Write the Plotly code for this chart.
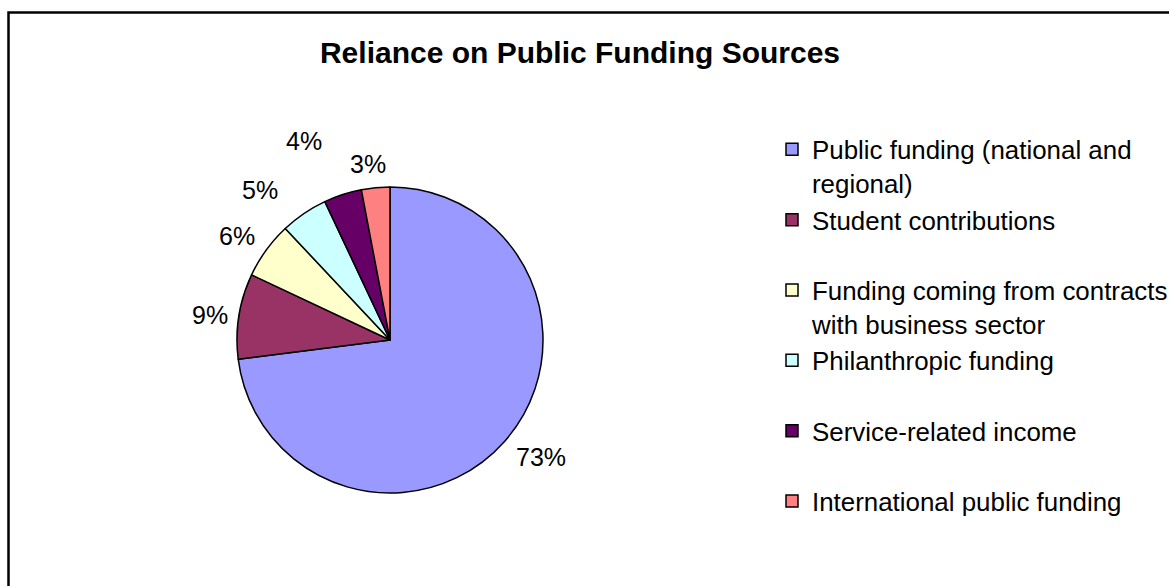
import math
import plotly.graph_objects as go

# Funding sources and their shares (%)
sources = [
    "Public funding (national and<br>regional)",
    "Student contributions<br> ",
    "Funding coming from contracts<br>with business sector",
    "Philanthropic funding<br> ",
    "Service-related income<br> ",
    "International public funding<br> ",
]
shares = [73, 9, 6, 5, 4, 3]
colors = ["#9999FF", "#993366", "#FFFFCC", "#CCFFFF", "#660066", "#FF8080"]

W, H = 1169, 586
cx, cy, r = 390, 340, 153  # pie centre and radius in pixels
label_size = 25
label_gap = 10            # space between the rim and the nearest edge of a label
# per-label nudges (px) so the labels of the thin slices fan out without colliding
label_radial = [1, -1, 0, 14, 35, 0]
label_tangent = [12, 3, 6, 23, 20, 5]

fig = go.Figure(
    go.Pie(
        labels=sources,
        values=shares,
        sort=False,
        direction="clockwise",
        rotation=0,
        marker=dict(colors=colors, line=dict(color="black", width=1.5)),
        textinfo="none",
        hoverinfo="label+percent",
        domain=dict(x=[(cx - r) / W, (cx + r) / W], y=[(H - cy - r) / H, (H - cy + r) / H]),
    )
)

# Percentage labels placed outside each slice, around the slice's mid-angle
annotations = []
total = sum(shares)
start = 0.0
for val, rad, tan in zip(shares, label_radial, label_tangent):
    mid = (start + val / 2) / total * 2 * math.pi  # clockwise from 12 o'clock
    start += val
    ux, uy = math.sin(mid), -math.cos(mid)   # outward direction, screen coords
    tx, ty = -math.cos(mid), -math.sin(mid)  # tangent, counter-clockwise
    text = f"{val}%"
    w = (0.556 * (len(text) - 1) + 0.889) * label_size
    h = label_size
    support = abs(ux) * w / 2 + abs(uy) * h / 2
    dist = r + label_gap + support + rad
    px = cx + dist * ux + tan * tx
    py = cy + dist * uy + tan * ty
    annotations.append(
        dict(
            text=text,
            x=px / W,
            y=1 - py / H,
            xref="paper",
            yref="paper",
            xanchor="center",
            yanchor="middle",
            showarrow=False,
            font=dict(size=label_size, color="black"),
        )
    )

fig.update_layout(
    width=W,
    height=H,
    margin=dict(l=0, r=0, t=0, b=0, autoexpand=False),
    paper_bgcolor="white",
    font=dict(family="Arial, Liberation Sans, sans-serif", color="black", size=24),
    title=dict(
        text="<b>Reliance on Public Funding Sources</b>",
        x=580 / W,
        xanchor="center",
        y=1 - 52 / H,
        yanchor="middle",
        font=dict(size=30, color="black"),
    ),
    legend=dict(
        x=772 / W,
        xanchor="left",
        y=1 - 126 / H,
        yanchor="top",
        valign="top",
        maxheight=1,
        font=dict(size=25.9, color="black"),
        bgcolor="rgba(0,0,0,0)",
    ),
    annotations=annotations,
    shapes=[
        dict(
            type="rect",
            xref="paper",
            yref="paper",
            x0=8.5 / W,
            x1=1.02,
            y0=-0.02,
            y1=1 - 12.5 / H,
            line=dict(color="black", width=2.5),
        )
    ],
)

fig.write_html("out.html")
